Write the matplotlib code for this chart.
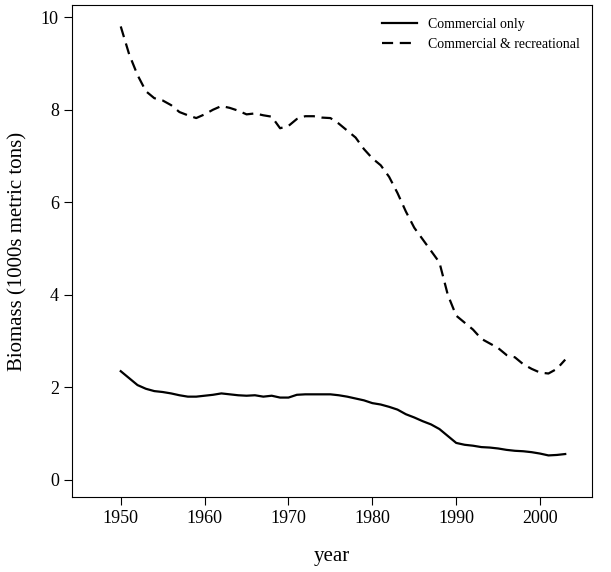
import matplotlib
matplotlib.use("Agg")
import matplotlib.pyplot as plt

years = list(range(1950, 2004))
comm_rec = [9.8,9.2,8.75,8.4,8.25,8.2,8.1,7.95,7.88,7.82,7.9,8.0,8.08,8.04,7.98,7.9,7.92,7.88,7.85,7.6,
            7.65,7.8,7.86,7.86,7.83,7.82,7.7,7.55,7.4,7.15,6.95,6.8,6.55,6.2,5.8,5.45,5.2,4.95,4.7,4.0,
            3.55,3.4,3.25,3.05,2.95,2.85,2.7,2.65,2.5,2.4,2.32,2.3,2.4,2.6]
comm_only = [2.35,2.2,2.05,1.97,1.92,1.9,1.87,1.83,1.8,1.8,1.82,1.84,1.87,1.85,1.83,1.82,1.83,1.8,1.82,1.78,
             1.78,1.84,1.85,1.85,1.85,1.85,1.83,1.8,1.76,1.72,1.66,1.63,1.58,1.52,1.42,1.35,1.27,1.2,1.1,0.95,
             0.8,0.76,0.74,0.71,0.7,0.68,0.65,0.63,0.62,0.6,0.57,0.53,0.54,0.56]
xticks = [1950, 1960, 1970, 1980, 1990, 2000]
yticks = [0, 2, 4, 6, 8, 10]

plt.rcParams['font.family'] = ['Liberation Serif', 'DejaVu Serif']
fig = plt.figure(figsize=(6.11, 5.72), dpi=100)
ax = fig.add_axes([0.118, 0.131, 0.851, 0.86])
ax.plot(years, comm_only, color='black', lw=1.6, label='Commercial only')
ax.plot(years, comm_rec, color='black', lw=1.6, ls=(0, (5, 3)), label='Commercial & recreational')
ax.set_xlim(1944.2, 2006.2)
ax.set_ylim(-0.37, 10.26)
ax.set_xticks(xticks)
ax.set_yticks(yticks)
ax.tick_params(labelsize=13, direction='out', length=6)
ax.set_xlabel('year', fontsize=15, labelpad=14)
ax.set_ylabel('Biomass (1000s metric tons)', fontsize=15, labelpad=10)
ax.legend(loc='upper right', frameon=False, fontsize=10, handlelength=2.5)
fig.savefig('out.png', dpi=100)
